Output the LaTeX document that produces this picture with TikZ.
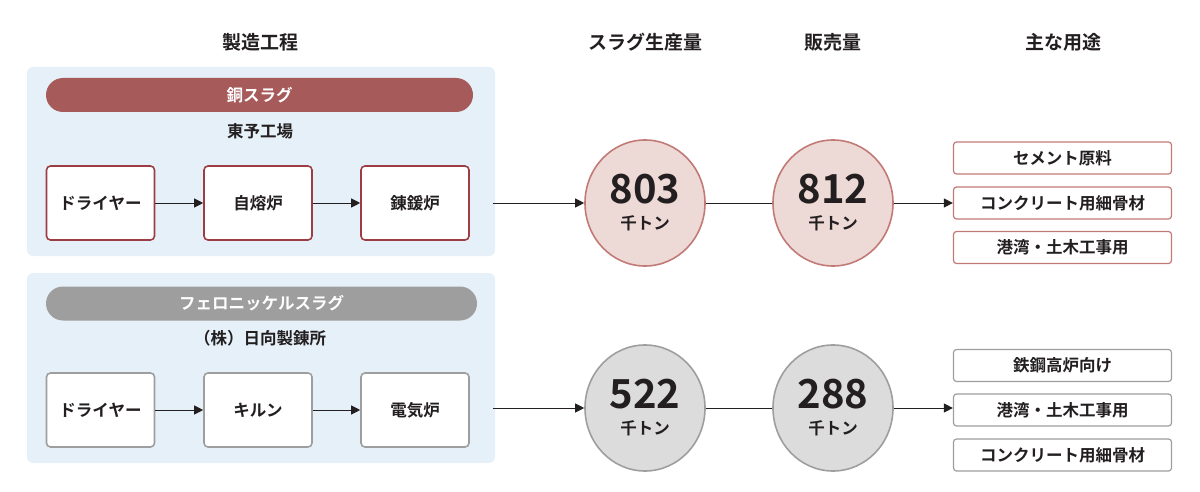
\documentclass[tikz,border=0pt]{standalone}
\usepackage{fontspec}
\setmainfont{Noto Sans CJK JP}[BoldFont={Noto Sans CJK JP Bold}]
\usetikzlibrary{arrows.meta,shapes.geometric}
\definecolor{panel}{HTML}{E5F0F8}
\definecolor{copper}{HTML}{A65A5A}
\definecolor{copperline}{HTML}{9C3D44}
\definecolor{copperfill}{HTML}{EDD9D6}
\definecolor{copperring}{HTML}{C27A76}
\definecolor{nickel}{HTML}{9E9E9E}
\definecolor{nickelfill}{HTML}{DCDCDC}
\definecolor{ink}{HTML}{231F20}
\begin{document}
\begin{tikzpicture}[x=1pt,y=-1pt,font=\bfseries\fontsize{16.5}{20}\selectfont,text=ink]
    \tikzset{
      head/.style={font=\bfseries\fontsize{19}{22}\selectfont},
      proc/.style={draw=#1,line width=1.6pt,fill=white,rounded corners=4pt,minimum width=108pt,minimum height=74pt},
      usebox/.style={draw=#1,line width=1.2pt,fill=white,rounded corners=3pt,minimum width=218pt,minimum height=32pt},
      amount/.style={ellipse,draw=#1,line width=1.6pt,minimum width=120pt,minimum height=126pt,align=center,inner sep=0pt},
      pill/.style={fill=#1,rounded corners=17pt,text=white,minimum height=34pt},
      flow/.style={draw=ink,line width=1pt,-{Triangle[length=9pt,width=9pt]}},
      link/.style={draw=ink,line width=1pt}
    }
    \useasboundingbox (0,0) rectangle (1200,492);
    %% headers
    \node[head] (h1) at (260,42) {製造工程};
    \node[head] (h2) at (645,42) {スラグ生産量};
    \node[head] (h3) at (833,42) {販売量};
    \node[head] (h4) at (1063,42) {主な用途};
    %% copper slag
    \fill[panel,rounded corners=6pt] (27,67) rectangle (495,256);
    \node[pill=copper,minimum width=427pt] (cu) at (259.5,95) {銅スラグ};
    \node (cuplant) at (260,131) {東予工場};
    \node[proc=copperline] (cu1) at (100.5,203) {ドライヤー};
    \node[proc=copperline] (cu2) at (258,203) {自熔炉};
    \node[proc=copperline] (cu3) at (415,203) {錬鍰炉};
    \coordinate (cuout) at (493,203);
    \node[amount=copperring,fill=copperfill] (cuprod) at (645,203) {\fontsize{40}{40}\selectfont 803\\[6pt]千トン};
    \node[amount=copperring,fill=copperfill] (cusale) at (833,203) {\fontsize{40}{40}\selectfont 812\\[6pt]千トン};
    \node[usebox=copperring] (cuuse1) at (1062.5,158) {セメント原料};
    \node[usebox=copperring] (cuuse2) at (1062.5,203) {コンクリート用細骨材};
    \node[usebox=copperring] (cuuse3) at (1062.5,247.5) {港湾・土木工事用};
    \path[flow] (cu1) -- (cu2); \path[flow] (cu2) -- (cu3);
    \path[flow] (cuout) -- (cuprod);
    \path[link] (cuprod) -- (cusale);
    \path[flow] (cusale) -- (cuuse2);
    %% ferronickel slag
    \fill[panel,rounded corners=6pt] (27,273) rectangle (495,463);
    \node[pill=nickel,minimum width=431pt] (ni) at (261.5,303.5) {フェロニッケルスラグ};
    \node (niplant) at (260,338) {（株）日向製錬所};
    \node[proc=nickel] (ni1) at (100.5,410) {ドライヤー};
    \node[proc=nickel] (ni2) at (258,410) {キルン};
    \node[proc=nickel] (ni3) at (415,410) {電気炉};
    \coordinate (niout) at (493,408);
    \node[amount=nickel,fill=nickelfill] (niprod) at (645,408) {\fontsize{40}{40}\selectfont 522\\[6pt]千トン};
    \node[amount=nickel,fill=nickelfill] (nisale) at (833,408) {\fontsize{40}{40}\selectfont 288\\[6pt]千トン};
    \node[usebox=nickel] (niuse1) at (1062.5,365.5) {鉄鋼高炉向け};
    \node[usebox=nickel] (niuse2) at (1062.5,410) {港湾・土木工事用};
    \node[usebox=nickel] (niuse3) at (1062.5,455) {コンクリート用細骨材};
    \path[flow] (ni1) -- (ni2); \path[flow] (ni2) -- (ni3);
    \path[flow] (niout) -- (niprod);
    \path[link] (niprod) -- (nisale);
    \path[flow] (nisale) -- (niuse2.west |- nisale);
\end{tikzpicture}
\end{document}
